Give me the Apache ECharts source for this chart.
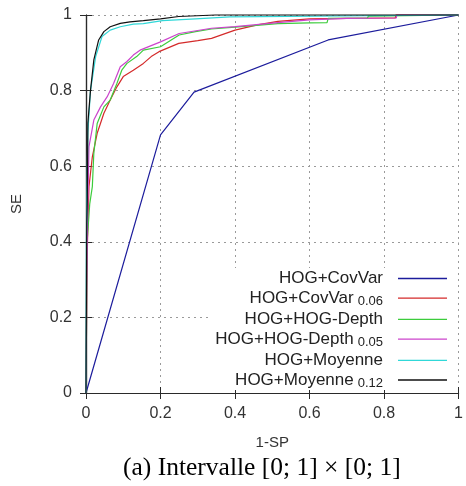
<!DOCTYPE html>
<html>
<head>
<meta charset="utf-8">
<script src="https://cdn.jsdelivr.net/npm/echarts@6/dist/echarts.min.js"></script>
<style>
html,body{margin:0;padding:0;background:#fff;}
#chart{width:466px;height:486px;}
</style>
</head>
<body>
<div id="chart"></div>
<script>
// ---- data ----
const seriesNames = ['HOG+CovVar', 'HOG+CovVar_0.06', 'HOG+HOG-Depth', 'HOG+HOG-Depth_0.05', 'HOG+Moyenne', 'HOG+Moyenne_0.12'];
const seriesColors = ['#1c1c9c', '#d42a2a', '#3ccc3c', '#cc44cc', '#30d8d8', '#111111'];
const tickValues = [0, 0.2, 0.4, 0.6, 0.8, 1];

const covVarX = [0, 0.2, 0.29, 0.65, 1];
const covVarY = [0, 0.683, 0.796, 0.934, 1];

const covVar006X = [0, 0.002, 0.004, 0.008, 0.017, 0.03, 0.048, 0.065, 0.083, 0.1, 0.127, 0.154, 0.175, 0.196, 0.249, 0.3, 0.337, 0.4, 0.46, 0.515, 0.6, 0.7, 0.8, 0.83, 0.832, 1];
const covVar006Y = [0, 0.27, 0.4, 0.546, 0.625, 0.687, 0.74, 0.775, 0.81, 0.837, 0.854, 0.872, 0.89, 0.903, 0.925, 0.932, 0.938, 0.96, 0.974, 0.983, 0.99, 0.991, 0.992, 0.992, 1, 1];

const depthX = [0, 0.003, 0.01, 0.017, 0.021, 0.03, 0.048, 0.065, 0.083, 0.096, 0.11, 0.136, 0.154, 0.2, 0.25, 0.294, 0.337, 0.4, 0.515, 0.6, 0.647, 0.65, 0.755, 0.758, 1];
const depthY = [0, 0.4, 0.5, 0.546, 0.634, 0.713, 0.757, 0.775, 0.819, 0.854, 0.872, 0.89, 0.907, 0.916, 0.947, 0.956, 0.963, 0.968, 0.977, 0.979, 0.98, 0.991, 0.991, 0.997, 1];

const depth005X = [0, 0.002, 0.004, 0.008, 0.021, 0.039, 0.057, 0.074, 0.092, 0.11, 0.127, 0.145, 0.2, 0.25, 0.337, 0.4, 0.515, 0.6, 0.7, 0.833, 0.834, 1];
const depth005Y = [0, 0.28, 0.45, 0.652, 0.722, 0.757, 0.784, 0.819, 0.863, 0.877, 0.894, 0.907, 0.929, 0.951, 0.965, 0.969, 0.98, 0.987, 0.991, 0.992, 1, 1];

const moyenneX = [0, 0.001, 0.003, 0.005, 0.012, 0.026, 0.043, 0.065, 0.092, 0.127, 0.154, 0.205, 0.294, 0.386, 0.39, 1];
const moyenneY = [0, 0.4, 0.55, 0.69, 0.80, 0.89, 0.943, 0.96, 0.969, 0.976, 0.977, 0.985, 0.99, 0.995, 1, 1];

const moyenne012X = [0, 0.002, 0.0035, 0.005, 0.012, 0.021, 0.034, 0.048, 0.065, 0.092, 0.118, 0.154, 0.2, 0.249, 0.347, 1];
const moyenne012Y = [0, 0.45, 0.51, 0.714, 0.80, 0.881, 0.934, 0.956, 0.969, 0.978, 0.982, 0.985, 0.99, 0.996, 1, 1];

const xsList = [covVarX, covVar006X, depthX, depth005X, moyenneX, moyenne012X];
const ysList = [covVarY, covVar006Y, depthY, depth005Y, moyenneY, moyenne012Y];

// ---- chart ----
const chart = echarts.init(document.getElementById('chart'), null, {renderer: 'canvas'});
const FONT = 'Liberation Sans, Arial, sans-serif';
const axisLine = {show: true, lineStyle: {color: '#2a2a2a', width: 1.2}};
const axisTick = {show: true, inside: true, length: 6, lineStyle: {color: '#2a2a2a', width: 1}};
const splitLine = {show: true, lineStyle: {color: '#9a9a9a', width: 1, type: [2, 4]}};
const labelStyle = {color: '#333', fontSize: 16, fontFamily: FONT};

const series = seriesNames.map((name, i) => ({
  name: name,
  type: 'line',
  xAxisIndex: 0,
  yAxisIndex: 0,
  symbol: 'none',
  clip: false,
  z: 3,
  lineStyle: {color: seriesColors[i], width: 1.2},
  itemStyle: {color: seriesColors[i]},
  data: xsList[i].map((x, j) => [x, ysList[i][j]])
}));

const option = {
  backgroundColor: '#fff',
  animation: false,
  grid: {left: 86, right: 3, top: 15, bottom: 93, containLabel: false},
  xAxis: [
    {type: 'value', position: 'bottom', min: 0, max: 1, interval: 0.2,
     name: '1-SP', nameLocation: 'middle', nameGap: 42,
     nameTextStyle: {color: '#333', fontSize: 15, fontFamily: FONT},
     axisLine: axisLine, axisTick: axisTick, splitLine: splitLine,
     axisLabel: Object.assign({margin: 13, formatter: v => String(+v.toFixed(1))}, labelStyle)},
    {type: 'value', position: 'top', min: 0, max: 1, interval: 0.2,
     axisLine: axisLine, axisTick: axisTick, splitLine: {show: false}, axisLabel: {show: false}}
  ],
  yAxis: [
    {type: 'value', position: 'left', min: 0, max: 1, interval: 0.2,
     name: 'SE', nameLocation: 'middle', nameGap: 62, nameRotate: 90,
     nameTextStyle: {color: '#333', fontSize: 15, fontFamily: FONT},
     axisLine: axisLine, axisTick: axisTick, splitLine: splitLine,
     axisLabel: Object.assign({margin: 14, formatter: v => String(+v.toFixed(1))}, labelStyle)},
    {type: 'value', position: 'right', min: 0, max: 1, interval: 0.2,
     axisLine: axisLine, axisTick: axisTick, splitLine: {show: false}, axisLabel: {show: false}}
  ],
  legend: {
    orient: 'vertical',
    align: 'right',
    right: 9,
    top: 268,
    padding: [2, 10, 0, 5],
    backgroundColor: '#fff',
    icon: 'rect',
    itemWidth: 49,
    itemHeight: 1.3,
    itemGap: 2.7,
    selectedMode: false,
    data: seriesNames,
    formatter: function (name) {
      const parts = name.split('_');
      return parts.length > 1 ? '{b|' + parts[0] + '}{s|' + parts[1] + '}' : '{a|' + parts[0] + '}';
    },
    textStyle: {
      color: '#222',
      fontFamily: FONT,
      rich: {
        a: {fontSize: 17, lineHeight: 20, padding: [0, 10, 0, 0], fontFamily: FONT, color: '#222'},
        b: {fontSize: 17, lineHeight: 20, fontFamily: FONT, color: '#222'},
        s: {fontSize: 13, lineHeight: 12, verticalAlign: 'bottom', padding: [0, 10, 0, 4], fontFamily: FONT, color: '#222'}
      }
    }
  },
  graphic: [
    {type: 'rect', left: 0, top: 448, z: 100, shape: {width: 466, height: 38}, style: {fill: '#fff'}},
    {type: 'text', z: 101,
     style: {text: '(a) Intervalle [0; 1] \u00d7 [0; 1]', x: 123, y: 468, align: 'left', verticalAlign: 'middle',
             fill: '#000', font: '25.5px "Liberation Serif", "Times New Roman", serif'}}
  ],
  series: series
};
chart.setOption(option);
</script>
</body>
</html>
